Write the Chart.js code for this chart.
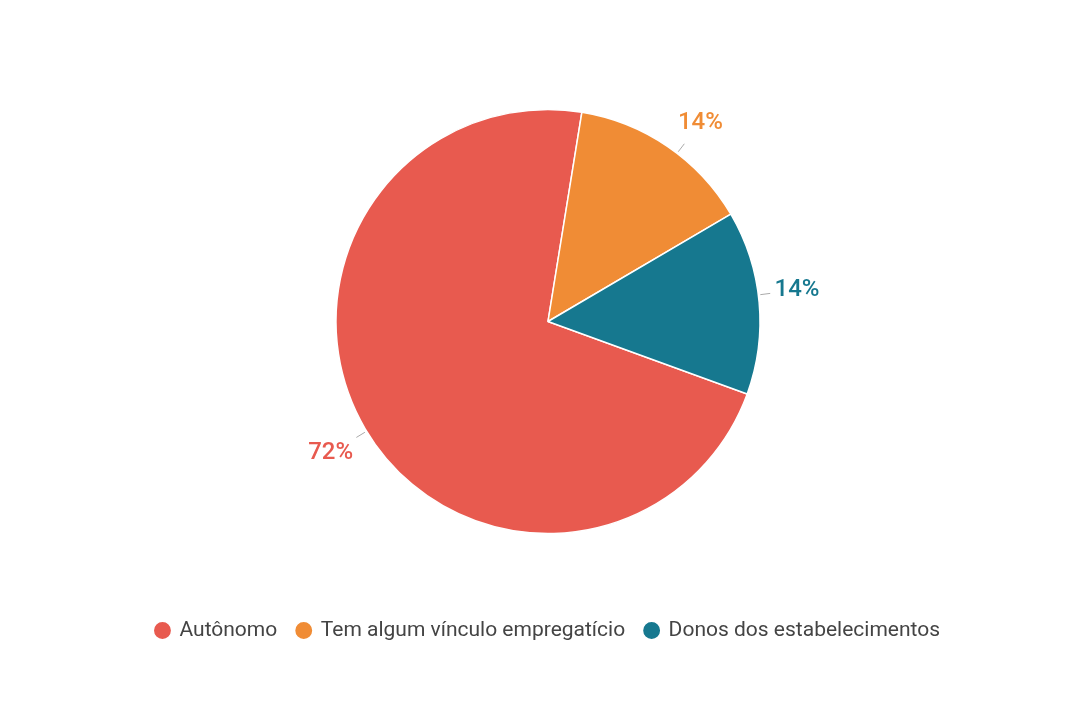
<!DOCTYPE html>
<html>
<head>
<meta charset="utf-8">
<script src="https://cdn.jsdelivr.net/npm/chart.js@4"></script>
<style>
  html, body { margin: 0; padding: 0; background: #fff; }
  #wrap { width: 1080px; height: 720px; }
</style>
</head>
<body>
<div id="wrap"><canvas id="pieChart" width="1080" height="720"></canvas></div>
<script>
const categories = ['Autônomo', 'Tem algum vínculo empregatício', 'Donos dos estabelecimentos'];
const shares = [72, 14, 14];
const colors = ['#E85A4F', '#F08C35', '#16788F'];

// draws "72%" style labels outside the pie, with short leader lines
const outsideLabels = {
  id: 'outsideLabels',
  afterDatasetsDraw(chart) {
    const ctx = chart.ctx;
    const meta = chart.getDatasetMeta(0);
    const nudge = [[0, 6], [10, 6], [-2, -9]];
    meta.data.forEach((arc, i) => {
      const p = arc.getProps(['x', 'y', 'startAngle', 'endAngle', 'outerRadius'], true);
      const mid = (p.startAngle + p.endAngle) / 2;
      const r = p.outerRadius;
      const lx = p.x + Math.cos(mid) * (r + 40) + nudge[i][0];
      const ly = p.y + Math.sin(mid) * (r + 36) + nudge[i][1];
      const a = Math.atan2(ly - p.y, lx - p.x);
      ctx.save();
      ctx.strokeStyle = '#aaa';
      ctx.lineWidth = 1;
      ctx.beginPath();
      ctx.moveTo(p.x + Math.cos(a) * (r + 2), p.y + Math.sin(a) * (r + 2));
      ctx.lineTo(p.x + Math.cos(a) * (r + 12), p.y + Math.sin(a) * (r + 12));
      ctx.stroke();
      ctx.fillStyle = colors[i];
      ctx.font = '500 24px Roboto';
      ctx.textAlign = 'center';
      ctx.textBaseline = 'middle';
      ctx.fillText(shares[i] + '%', lx, ly);
      ctx.restore();
    });
  }
};

new Chart(document.getElementById('pieChart'), {
  type: 'pie',
  data: {
    labels: categories,
    datasets: [{
      data: shares,
      backgroundColor: colors,
      borderColor: '#fff',
      borderWidth: 1.5,
      radius: 212,
      hoverOffset: 0
    }]
  },
  options: {
    responsive: false,
    animation: false,
    rotation: 110,
    layout: { padding: { top: 43, bottom: 69, left: 16, right: 0 } },
    plugins: {
      tooltip: { enabled: false },
      legend: {
        position: 'bottom',
        labels: {
          usePointStyle: true,
          pointStyle: 'circle',
          boxWidth: 13,
          boxHeight: 13,
          padding: 20,
          color: '#444',
          font: { family: 'Roboto', size: 21 }
        }
      }
    }
  },
  plugins: [outsideLabels]
});
</script>
</body>
</html>
